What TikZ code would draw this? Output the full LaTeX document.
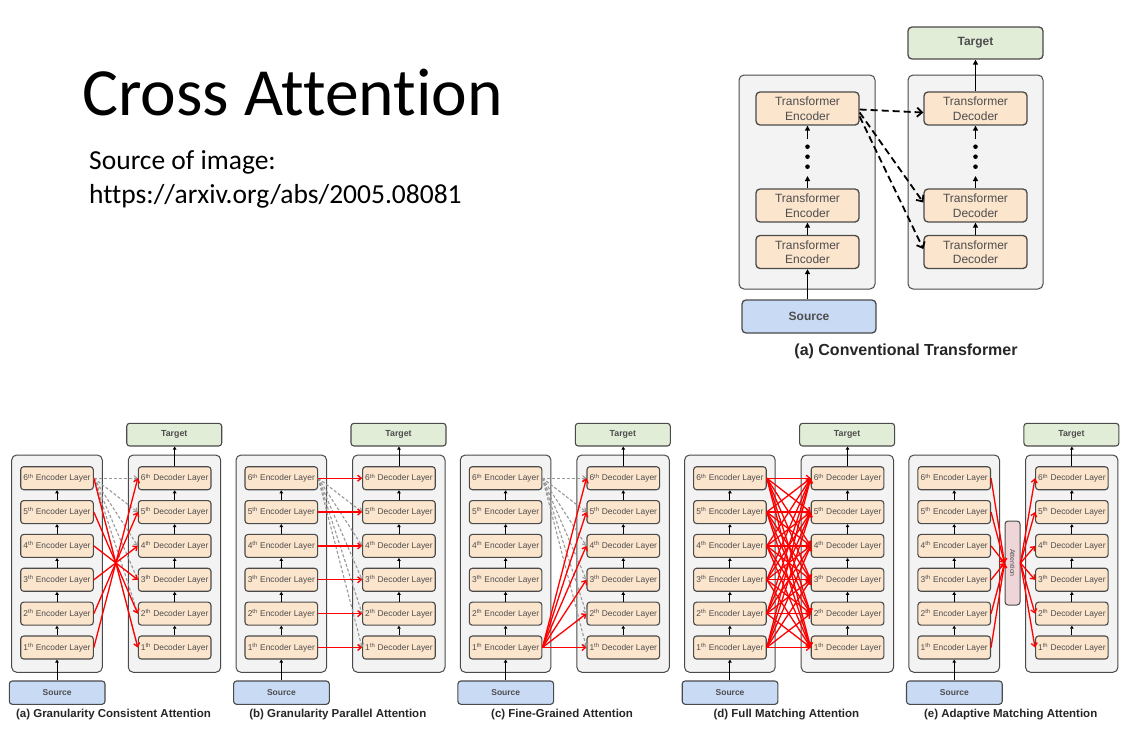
\documentclass[tikz,border=0pt]{standalone}
\usepackage{fontspec}
\setmainfont{Liberation Sans}
\newfontfamily\calibrifont[Ligatures={NoCommon,NoContextual}]{Carlito}
\usetikzlibrary{arrows.meta}
\definecolor{bord}{HTML}{4A4A4A}
\definecolor{contfill}{HTML}{F3F3F3}
\definecolor{layerfill}{HTML}{FCE5CD}
\definecolor{tgtfill}{HTML}{E2EDD8}
\definecolor{srcfill}{HTML}{C9DAF5}
\definecolor{attfill}{HTML}{EDD5D8}
\definecolor{txt}{HTML}{4D4D4D}
\tikzset{
  cont/.style={draw=bord, fill=contfill, rounded corners=5pt, line width=1pt, inner sep=0pt},
  layer/.style={draw=bord, fill=layerfill, rounded corners=3pt, line width=1.1pt, inner sep=0pt,
    minimum width=72.6pt, minimum height=23pt, text=txt, font=\fontsize{8.4}{9}\selectfont},
  tgtbox/.style={draw=bord, fill=tgtfill, rounded corners=3pt, line width=1.1pt, inner sep=0pt,
    minimum width=95pt, minimum height=22.7pt, text=txt, font=\bfseries\fontsize{8.8}{10}\selectfont},
  srcbox/.style={draw=bord, fill=srcfill, rounded corners=3pt, line width=1.1pt, inner sep=0pt,
    minimum width=95.7pt, minimum height=23.3pt, text=txt, font=\bfseries\fontsize{8.5}{10}\selectfont},
  bigbox/.style={draw=bord, fill=layerfill, rounded corners=4pt, line width=1.3pt, inner sep=0pt,
    minimum width=103pt, minimum height=33pt, text=txt, align=center, font=\fontsize{12}{14.5}\selectfont},
  blk/.style={draw=black, line width=0.9pt, -{Triangle[length=3pt,width=3.5pt]}},
  bigblk/.style={draw=black, line width=1.5pt, -{Triangle[length=5pt,width=5pt]}},
  redarr/.style={draw=red, line width=1.3pt, -{Straight Barb[length=3.5pt,width=6pt]}},
  grayarr/.style={draw=gray!80, line width=1.1pt, dash pattern=on 3pt off 2pt, -{Straight Barb[length=3pt,width=5pt]}},
  blkdash/.style={draw=black, line width=1.8pt, dash pattern=on 7pt off 4pt, -{Straight Barb[length=5pt,width=9pt]}},
  capt/.style={text=black!85, font=\bfseries\fontsize{11.5}{13}\selectfont},
}
\begin{document}
\begin{tikzpicture}[x=1pt,y=-1pt]
\useasboundingbox[fill=white] (0,0) rectangle (1134,737);

% ---------- Title ----------
\node[anchor=base west, inner sep=0pt, font=\calibrifont\fontsize{67.5}{67}\selectfont] (title) at (82,115.5) {Cross Attention};
\node[anchor=base west, inner sep=0pt, font=\calibrifont\fontsize{27.5}{30}\selectfont] (srcl1) at (89,169) {Source of image:};
\node[anchor=base west, inner sep=0pt, font=\calibrifont\fontsize{27.5}{30}\selectfont] (srcl2) at (89,203) {https://arxiv.org/abs/2005.08081};

% ---------- (a) Conventional Transformer ----------
\node[cont, minimum width=136pt, minimum height=214pt] (tEC) at (807,182) {};
\node[cont, minimum width=135pt, minimum height=214pt] (tDC) at (975.5,182) {};
\node[draw=bord, fill=tgtfill, rounded corners=4pt, line width=1.3pt, minimum width=135pt, minimum height=32pt,
  text=txt, font=\bfseries\fontsize{12}{14}\selectfont] (tTgt) at (975.5,43) {Target};
\node[draw=bord, fill=srcfill, rounded corners=4pt, line width=1.3pt, minimum width=134pt, minimum height=33pt,
  text=txt, font=\bfseries\fontsize{12}{14}\selectfont] (tSrc) at (809,316.5) {Source};
\node[bigbox] (tE3) at (807.5,108.5) {Transformer\\Encoder};
\node[bigbox] (tE2) at (807.5,205.5) {Transformer\\Encoder};
\node[bigbox] (tE1) at (807.5,252) {Transformer\\Encoder};
\node[bigbox] (tD3) at (975.5,108.5) {Transformer\\Decoder};
\node[bigbox] (tD2) at (975.5,205.5) {Transformer\\Decoder};
\node[bigbox] (tD1) at (975.5,252) {Transformer\\Decoder};
\node[font=\bfseries\fontsize{16}{18}\selectfont, text=black!85] (tCap) at (906,351.5) {(a) Conventional Transformer};

\coordinate (eA) at (807.5,176);
\coordinate (eB) at (807.5,139);
\coordinate (dA) at (975.5,176);
\coordinate (dB) at (975.5,139);
\draw[bigblk] (tSrc.north -| tE1.south) -- (tE1.south);
\draw[bigblk] (tE1.north) -- (tE2.south);
\draw[bigblk] (tE2.north) -- (eA);
\draw[bigblk] (eB) -- (tE3.south);
\draw[bigblk] (tD1.north) -- (tD2.south);
\draw[bigblk] (tD2.north) -- (dA);
\draw[bigblk] (dB) -- (tD3.south);
\draw[bigblk] (tD3.north) -- (tTgt.south);
\foreach \yy in {146.7,156.7,166.7}{
  \fill (807.5,\yy) circle (2.3);
  \fill (975.5,\yy) circle (2.3);
}
\draw[blkdash] ([yshift=-1pt]tE3.east) -- ([yshift=-4pt]tD3.west);
\draw[blkdash] ([yshift=-4pt]tE3.east) -- ([yshift=3pt]tD2.west);
\draw[blkdash] ([yshift=-8pt]tE3.east) -- ([yshift=3pt]tD1.west);

% ---------- bottom panels ----------
\foreach \p in {0,...,4}{
  \pgfmathsetmacro\ox{\p*224.3}
  \node[cont, minimum width=90.6pt, minimum height=217.3pt] (ec\p) at (\ox+57,563.65) {};
  \node[cont, minimum width=92.4pt, minimum height=217.3pt] (dc\p) at (\ox+174.5,563.65) {};
  \node[tgtbox] (tg\p) at (\ox+174.2,434.65) {Target};
  \node[srcbox] (sr\p) at (\ox+57.15,692.65) {Source};
  \foreach \i in {1,...,6}{
    \pgfmathsetmacro\cy{478.2+(6-\i)*33.86}
    \node[layer] (e\p-\i) at (\ox+57,\cy) {\i\textsuperscript{th} Encoder Layer};
    \node[layer] (d\p-\i) at (\ox+174.65,\cy) {\i\textsuperscript{th} Decoder Layer};
  }
  \draw[blk] (sr\p.north -| e\p-1.south) -- (e\p-1.south);
  \draw[blk] (d\p-6.north) -- (d\p-6.north |- tg\p.south);
  \foreach \i [evaluate=\i as \j using int(\i+1)] in {1,...,5}{
    \draw[blk] (e\p-\i.north) -- (e\p-\j.south);
    \draw[blk] (d\p-\i.north) -- (d\p-\j.south);
  }
}
% captions
\node[capt] (cap0) at (113.5,715) {(a) Granularity Consistent Attention};
\node[capt] (cap1) at (337.8,715) {(b) Granularity Parallel Attention};
\node[capt] (cap2) at (562.1,715) {(c) Fine-Grained Attention};
\node[capt] (cap3) at (786.4,715) {(d) Full Matching Attention};
\node[capt] (cap4) at (1010.7,715) {(e) Adaptive Matching Attention};

% gray dashed conventional connections (a), (b), (c)
\foreach \p in {0,1,2}{
  \foreach \j in {1,...,6}{
    \draw[grayarr] (e\p-6.east) -- (d\p-\j.west);
  }
}
% (a) granularity consistent
\foreach \i in {1,...,6}{
  \pgfmathtruncatemacro\j{7-\i}
  \draw[redarr] (e0-\i.east) -- (d0-\j.west);
}
% (b) granularity parallel
\foreach \i in {1,...,6}{
  \draw[redarr] (e1-\i.east) -- (d1-\i.west);
}
% (c) fine-grained
\foreach \j in {1,...,6}{
  \draw[redarr] (e2-1.east) -- (d2-\j.west);
}
% (d) full matching
\foreach \i in {1,...,6}{
  \foreach \j in {1,...,6}{
    \draw[redarr] (e3-\i.east) -- (d3-\j.west);
  }
}
% (e) adaptive matching
\node[draw=bord, fill=attfill, rounded corners=3pt, line width=1pt, minimum width=15pt, minimum height=84pt, inner sep=0pt] (att) at (1012.5,563) {};
\node[rotate=-90, text=txt, font=\fontsize{7}{8}\selectfont] (attlbl) at (att.center) {Attention};
\foreach \i in {1,...,6}{
  \draw[redarr] (e4-\i.east) -- (att.west);
  \draw[redarr] (att.east) -- (d4-\i.west);
}
\end{tikzpicture}
\end{document}
